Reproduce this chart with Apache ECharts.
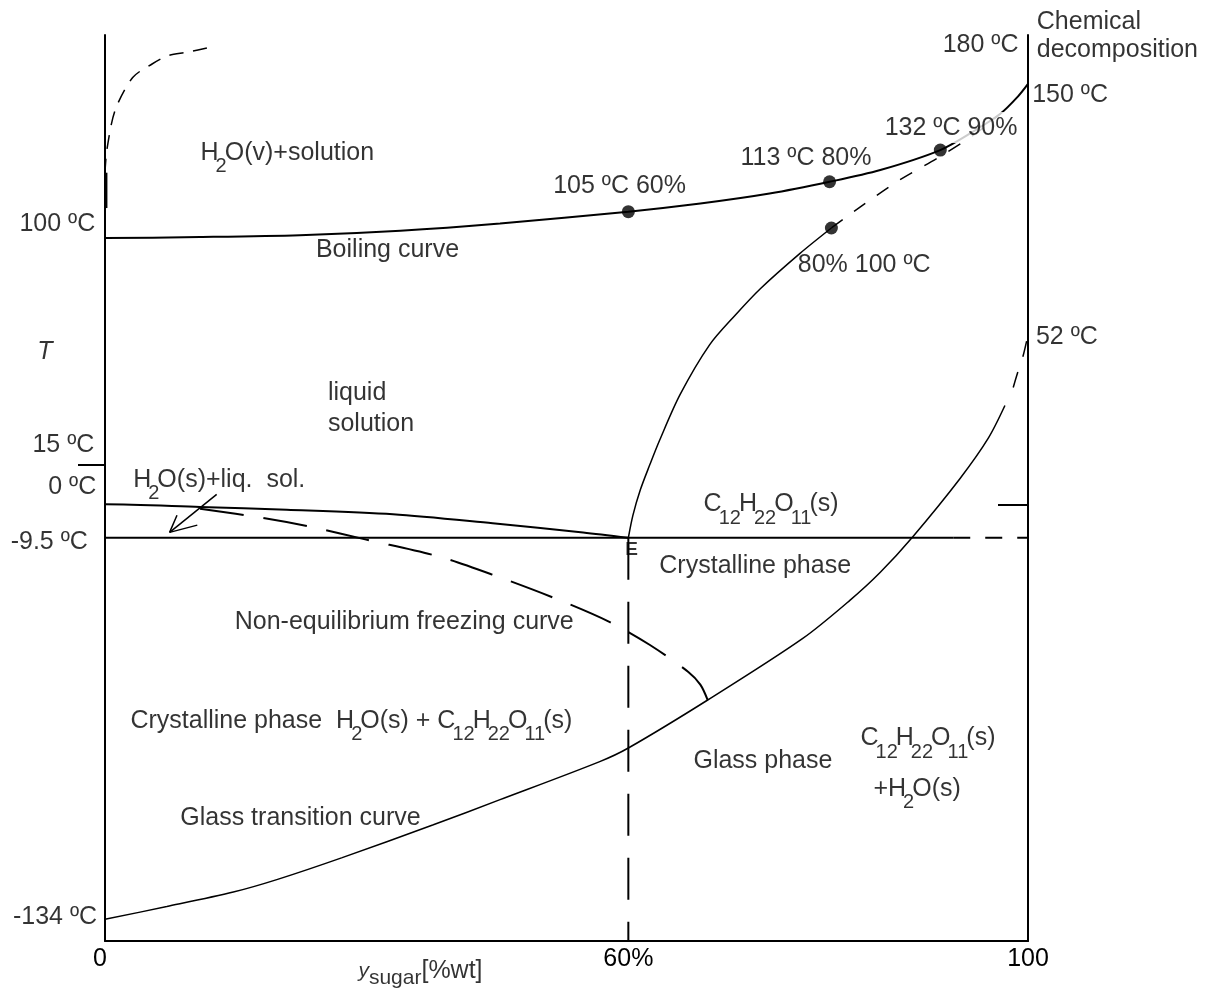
<!DOCTYPE html>
<html><head><meta charset="utf-8">
<script src="https://cdn.jsdelivr.net/npm/echarts@6/dist/echarts.min.js"></script>
<style>html,body{margin:0;padding:0;background:#fff}#c{width:1212px;height:991px}</style>
</head><body><div id="c"></div>
<script>
// Schematic diagram coordinates: x = position along composition axis (0..100), y = schematic temperature height (0..100)
const FONT = '"Liberation Sans", Arial, sans-serif';

const xTickPos = [0, 56.7, 100];
const xTickLabels = ['0', '60%', '100'];

const yTickPos = [77.6, 52.6, 48.2, 44.5, 2.4];
const yTickLabels = ['100 ºC', '15 ºC', '0 ºC', '-9.5 ºC', '-134 ºC'];
const yLabelPos = [[-1.0, 79.1], [-1.1, 54.7], [-0.9, 50.1], [-1.8, 44.0], [-0.8, 2.6]];

const boilingCurve = [[-2.7,77.6],[0,77.6],[10.3,77.7],[21.1,77.9],[32.0,78.4],[42.8,79.2],[56.7,80.5],[64.5,81.4],[72.0,82.5],[78.5,83.8],[84.0,85.1],[90.5,87.3],[94.0,89.3],[97.0,91.3],[98.9,93.2],[100,94.6]];
const solubilityCurve = [[56.7,44.5],[57.2,47.0],[58.0,49.8],[59.0,52.5],[60.1,55.3],[62.3,60.3],[65.5,65.8],[68.3,69.1],[71.0,72.0],[75.3,75.9],[78.7,78.7]];
const solubilityDashed = [[78.7,78.7],[81.8,81.0],[86.1,84.0],[90.5,86.6],[94.3,89.1],[97.0,91.3]];
const freezingCurve = [[-2.5,48.2],[0,48.2],[10.3,47.9],[19.7,47.6],[31.2,47.1],[42.0,46.1],[51.8,45.1],[56.7,44.5]];
const eutecticSolid = [[-1.6,44.5],[91.9,44.5]];
const eutecticDashed = [[91.9,44.5],[100.2,44.5]];
const nonEqFreezing = [[10.3,47.7],[17.1,46.7],[22.4,45.7],[28.3,44.3],[36.3,42.4],[42.6,40.2],[49.3,37.6],[54.7,35.2],[59.0,32.7],[63.2,29.7],[64.5,28.3],[65.3,26.6]];
const glassCurve = [[0,2.4],[6.7,3.8],[13.9,5.4],[18.7,6.8],[25.7,9.2],[35.5,12.8],[42.8,15.6],[53.6,19.8],[56.7,21.3],[65.3,26.6],[75.6,33.4],[80.7,37.6],[84.0,40.7],[87.5,44.6],[92.6,51.0],[95.7,55.5],[97.5,59.1]];
const glassDashed = [[98.4,61.1],[98.9,62.8],[99.5,64.7],[100,66.9]];
const vapourSolid = [[0.1,80.9],[0.1,84.8]];
const vapourDashed = [[0,84.8],[0.2,87.3],[1.1,91.7],[3.0,95.3],[5.1,96.8],[6.8,97.7],[8.9,98.1],[11.6,98.7]];
const eutecticVertical = [[56.7,44.5],[56.7,0]];
const arrowShaft = [[12.1,49.3],[7.0,45.1]];
const arrowHead = [[7.8,47.0],[7.0,45.1],[10.0,45.9]];
const keyPoints = [[56.7,80.5],[78.5,83.8],[90.5,87.3],[78.7,78.7]];

const leftTexts = [
  [10.3, 87.0, 'H{sb|2}O(v)+solution'],
  [22.8, 76.3, 'Boiling curve'],
  [48.5, 83.3, '105 ºC 60%'],
  [68.8, 86.4, '113 ºC 80%'],
  [75.0, 74.6, '80% 100 ºC'],
  [90.7, 98.9, '180 ºC'],
  [100.9, 101.4, 'Chemical'],
  [100.9, 98.3, 'decomposition'],
  [100.4, 93.4, '150 ºC'],
  [100.8, 66.6, '52 ºC'],
  [24.1, 60.5, 'liquid'],
  [24.1, 57.1, 'solution'],
  [3.0, 50.9, 'H{sb|2}O(s)+liq.  sol.'],
  [64.8, 48.2, 'C{sb|12}H{sb|22}O{sb|11}(s)'],
  [60.0, 41.4, 'Crystalline phase'],
  [14.0, 35.2, 'Non-equilibrium freezing curve'],
  [2.7, 24.3, 'Crystalline phase  H{sb|2}O(s) + C{sb|12}H{sb|22}O{sb|11}(s)'],
  [63.7, 19.9, 'Glass phase'],
  [81.8, 22.4, 'C{sb|12}H{sb|22}O{sb|11}(s)'],
  [83.2, 16.8, '+H{sb|2}O(s)'],
  [8.1, 13.6, 'Glass transition curve'],
  [27.4, -3.3, '{iy|y}{ss|sugar}{br|[%wt]}']
];
const boxedText = [[84.2, 89.8, '132 ºC 90%']];
const eLabel = [[56.3, 43.2, 'E']];
const tLabel = [[-6.5, 65.0, 'T']];

const rich = {
  sb: {fontSize: 20, fontFamily: FONT, color: '#000', padding: [28, -2, 0, -3]},
  iy: {fontSize: 21, fontFamily: FONT, fontStyle: 'italic', color: '#000'},
  ss: {fontSize: 21, fontFamily: FONT, color: '#000', padding: [14, 0, 0, 0]},
  br: {fontSize: 25, fontFamily: FONT, color: '#000'}
};

function lineSeries(data, width, dash, extra) {
  return Object.assign({
    type: 'line', data: data, showSymbol: false, symbol: 'none', clip: false,
    smooth: 0.3, smoothMonotone: null, silent: true, z: 3,
    lineStyle: {color: '#000', width: width, type: dash || 'solid', cap: 'butt'}
  }, extra || {});
}

function textSeries(items, position, labelExtra) {
  return {
    type: 'scatter', clip: false, silent: true, z: 10, symbolSize: 1,
    itemStyle: {color: 'rgba(0,0,0,0)'},
    data: items.map(t => ({value: [t[0], t[1]], text: t[2]})),
    label: Object.assign({
      show: true, position: position, distance: 0,
      formatter: p => p.data.text,
      fontSize: 25, fontFamily: FONT, color: '#000', rich: rich
    }, labelExtra || {})
  };
}

const yLabelItems = yLabelPos.map((p, i) => [p[0], p[1], yTickLabels[i]]);

const chart = echarts.init(document.getElementById('c'), null, {renderer: 'canvas'});
chart.setOption({
  animation: false,
  backgroundColor: '#fff',
  grid: {left: 105, right: 184, top: 35, bottom: 50},
  xAxis: {
    type: 'value', min: 0, max: 100,
    axisLine: {show: true, onZero: false, lineStyle: {color: '#000', width: 2}},
    axisTick: {show: false},
    splitLine: {show: false},
    axisLabel: {
      customValues: xTickPos, margin: 6, fontSize: 25, fontFamily: FONT, color: '#000',
      formatter: v => {
        let i = 0, d = 1e9;
        xTickPos.forEach((p, k) => { if (Math.abs(p - v) < d) { d = Math.abs(p - v); i = k; } });
        return i === 0 ? '{z|' + xTickLabels[i] + '}' : xTickLabels[i];
      },
      rich: {z: {fontSize: 25, fontFamily: FONT, color: '#000', padding: [0, 10, 0, 0]}}
    }
  },
  yAxis: [{
    type: 'value', min: 0, max: 100, position: 'left',
    axisLine: {show: true, onZero: false, lineStyle: {color: '#000', width: 2}},
    axisTick: {show: true, customValues: [yTickPos[1]], length: 27, lineStyle: {color: '#000', width: 2}},
    axisLabel: {show: false},
    splitLine: {show: false}
  }, {
    type: 'value', min: 0, max: 100, position: 'right',
    axisLine: {show: true, onZero: false, lineStyle: {color: '#000', width: 2}},
    axisTick: {show: true, inside: true, customValues: [yTickPos[2]], length: 30, lineStyle: {color: '#000', width: 2}},
    axisLabel: {show: false},
    splitLine: {show: false}
  }],
  series: [
    lineSeries(boilingCurve, 2),
    lineSeries(solubilityCurve, 1.5),
    lineSeries(solubilityDashed, 1.5, [14, 14]),
    lineSeries(freezingCurve, 2),
    lineSeries(eutecticSolid, 2, 'solid', {smooth: false}),
    lineSeries(eutecticDashed, 2, [17, 15], {smooth: false}),
    lineSeries(nonEqFreezing, 2, [44, 20]),
    lineSeries(glassCurve, 1.5),
    lineSeries(glassDashed, 1.5, [16, 16]),
    lineSeries(vapourSolid, 3, 'solid', {smooth: false}),
    lineSeries(vapourDashed, 1.5, [14, 10]),
    lineSeries(eutecticVertical, 2, [42, 22], {smooth: false}),
    lineSeries(arrowShaft, 1.5, 'solid', {smooth: false}),
    lineSeries(arrowHead, 1.5, 'solid', {smooth: false}),
    {
      type: 'scatter', data: keyPoints, symbol: 'circle', symbolSize: 13, silent: true, z: 5,
      itemStyle: {color: '#000'}
    },
    textSeries(leftTexts, 'right'),
    textSeries(boxedText, 'right', {backgroundColor: '#fff', padding: [4, 2, 2, 2]}),
    textSeries(yLabelItems, 'left'),
    textSeries(eLabel, 'right', {fontSize: 19, fontWeight: 'bold'}),
    textSeries(tLabel, 'inside', {fontStyle: 'italic'})
  ]
});
</script>
</body></html>
